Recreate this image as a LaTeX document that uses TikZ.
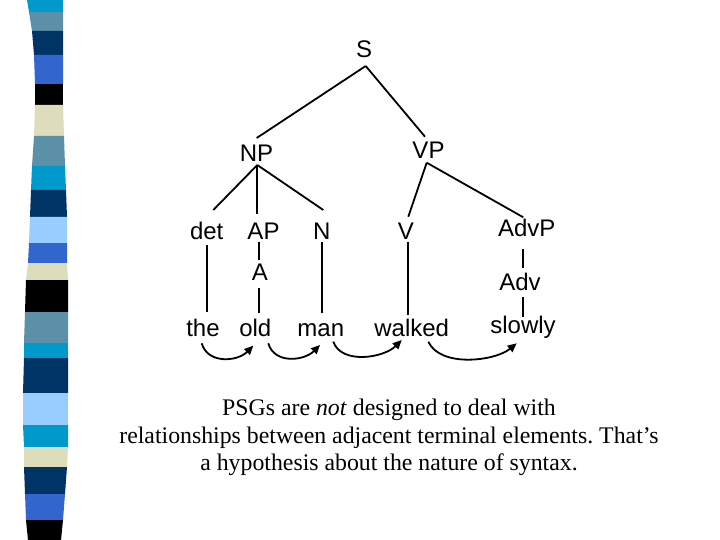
\documentclass[tikz,border=0pt]{standalone}
\usepackage{fontspec}
\setmainfont{Liberation Serif}
\newfontfamily\treefont{Liberation Sans}
\usetikzlibrary{calc,arrows.meta}
\definecolor{scyan}{RGB}{0,153,204}
\definecolor{ssteel}{RGB}{92,144,168}
\definecolor{snavy}{RGB}{0,51,102}
\definecolor{sroyal}{RGB}{51,102,204}
\definecolor{sbeige}{RGB}{221,221,187}
\definecolor{slight}{RGB}{153,204,255}
\tikzset{
  lab/.style={font=\treefont\fontsize{24}{28}\selectfont, inner sep=0pt, anchor=base},
  edge/.style={line width=1.8pt},
  arc/.style={line width=1.8pt, -{Triangle[length=9pt,width=8pt]}},
  caption/.style={font=\frenchspacing\fontsize{23.8}{28}\selectfont, inner sep=0pt, anchor=base}
}
\begin{document}
\begin{tikzpicture}[x=1pt,y=-1pt]
\useasboundingbox (0,0) rectangle (720,540);
\fill[white] (0,0) rectangle (720,540);
% stripe bar
\foreach \ya/\yb/\la/\lb/\ra/\rb/\c in {
  0/12/27/29/63/63/scyan,
  12/31/29/32/63/63/ssteel,
  31/55/32/34/63/63/snavy,
  55/84/34/35/63/63/sroyal,
  84/105/35/35/63/63/black,
  105/136/35/34/63/64/sbeige,
  136/166/34/32/64/65/ssteel,
  166/190/32/31/65/66/scyan,
  190/217/31/30/66/67/snavy,
  217/243/30/29/67/67/slight,
  243/263/29/28/67/67/sroyal,
  263/280/28/26/67/68/sbeige,
  280/312/26/25/68/68/black,
  312/343/25/24/68/68/ssteel,
  343/358/24/24/68/68/scyan,
  358/393/24/23/68/68/snavy,
  393/425/23/23/68/68/slight,
  425/447/23/24/68/68/scyan,
  447/467/24/24/68/67/sbeige,
  467/494/24/25/67/65/snavy,
  494/520/25/26/65/63/sroyal,
  520/540/26/28/63/61/black}
  {\fill[\c] (\la,\ya) -- (\ra,\ya) -- (\rb,\yb) -- (\lb,\yb) -- cycle;}
% tree labels
\node[lab] (S) at (364,58) {S};
\node[lab] (NP) at (256.5,161.5) {NP};
\node[lab] (VP) at (428.5,158.3) {VP};
\node[lab] (det) at (206.7,240) {det};
\node[lab] (AP) at (263.5,240) {AP};
\node[lab] (N) at (321.7,240) {N};
\node[lab] (V) at (405.8,240) {V};
\node[lab] (AdvP) at (526.7,236.7) {AdvP};
\node[lab] (A) at (260,280) {A};
\node[lab] (Adv) at (520,290.7) {Adv};
\node[lab] (the) at (203,336.7) {the};
\node[lab] (old) at (255.3,336.7) {old};
\node[lab] (man) at (320.8,336.7) {man};
\node[lab] (walked) at (411.7,336.7) {walked};
\node[lab] (slowly) at (523,333.3) {slowly};
% tree edges
\draw[edge] ($(S.base)+(1.7,8)$) -- ($(NP.base)+(0.2,-23.5)$);
\draw[edge] ($(S.base)+(1.7,8)$) -- ($(VP.base)+(-3.5,-21.6)$);
\draw[edge] ($(NP.base)+(0.8,3.5)$) -- ($(det.base)+(6.6,-30)$);
\draw[edge] ($(NP.base)+(0.8,3.5)$) -- ($(AP.base)+(-6.2,-26)$);
\draw[edge] ($(NP.base)+(0.8,3.5)$) -- ($(N.base)+(1.6,-30)$);
\draw[edge] ($(VP.base)+(-1.8,4.4)$) -- ($(V.base)+(2.5,-23.3)$);
\draw[edge] ($(VP.base)+(-1.8,4.4)$) -- ($(AdvP.base)+(-3.4,-19.4)$);
\draw[edge] ($(det.base)+(0,5)$) -- ($(the.base)+(3.7,-25)$);
\draw[edge] ($(AP.base)+(-4.2,1.7)$) -- ($(A.base)+(-0.7,-20)$);
\draw[edge] ($(A.base)+(-0.7,8.3)$) -- ($(old.base)+(4,-23.4)$);
\draw[edge] ($(N.base)+(0,1.7)$) -- ($(man.base)+(0.9,-23.4)$);
\draw[edge] ($(V.base)+(2.5,1.7)$) -- ($(walked.base)+(-3.4,-21.7)$);
\draw[edge] ($(AdvP.base)+(-3.4,12.6)$) -- ($(Adv.base)+(3.3,-22.4)$);
\draw[edge] ($(Adv.base)+(3.3,6)$) -- ($(slowly.base)+(0.3,-16.6)$);
% adjacency arrows
\draw[arc] ($(the.base)+(-1.3,6.6)$) .. controls +(6,21) and +(-16,16) .. ($(old.base)+(-2,9)$);
\draw[arc] ($(old.base)+(13,6.6)$) .. controls +(6,21) and +(-16,16) .. ($(man.base)+(-0.8,8.3)$);
\draw[arc] ($(man.base)+(12.5,5)$) .. controls +(8,23) and +(-18,18) .. ($(walked.base)+(-10,3.3)$);
\draw[arc] ($(walked.base)+(16.6,5)$) .. controls +(12,26) and +(-22,18) .. ($(slowly.base)+(-6.3,10)$);
% caption
\node[caption] (t1) at (389,415.5) {PSGs are \emph{not} designed to deal with};
\node[caption] (t2) at (389,443.3) {relationships between adjacent terminal elements. That’s};
\node[caption] (t3) at (389,470.7) {a hypothesis about the nature of syntax.};
\end{tikzpicture}
\end{document}
